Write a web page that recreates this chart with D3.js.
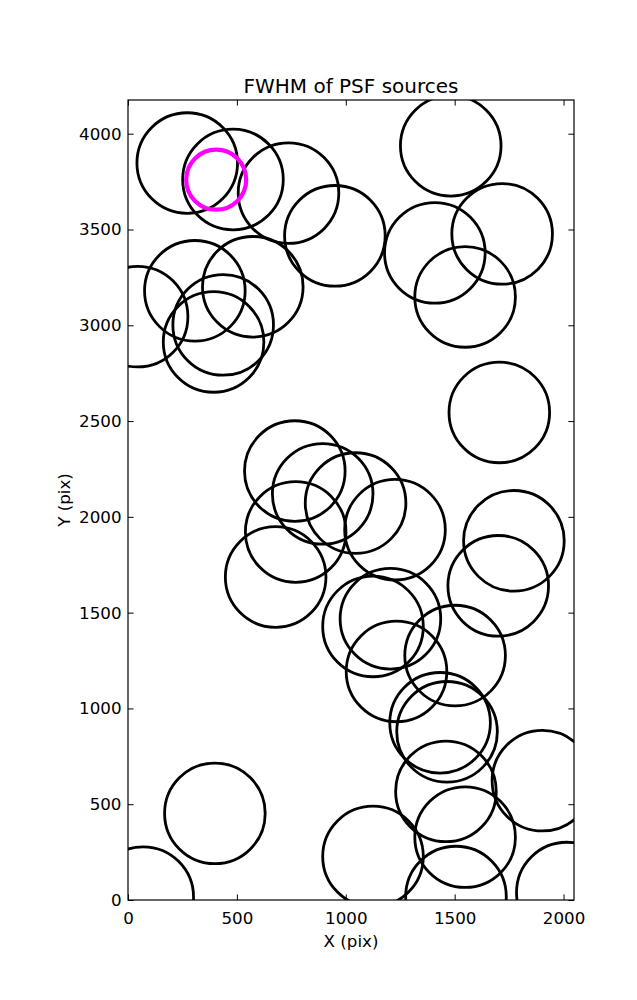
<!DOCTYPE html>
<html><head><meta charset="utf-8">
<script src="https://cdn.jsdelivr.net/npm/d3@7"></script>
<style>body{margin:0;background:#fff}</style>
</head><body>
<script>
// Source positions (data units, pix)
const srcX = [272, 482, 737, 950, 1482, 1718, 1409, 1548, 44, 307, 573, 437, 393, 1705,
  766, 894, 1045, 1226, 770, 678, 1772, 1700, 1205, 1125, 1233, 1502,
  1433, 1465, 1460, 1903, 1548, 1125, 1506, 2015, 70, 399];
const srcY = [3847, 3761, 3690, 3467, 3937, 3477, 3378, 3148, 3045, 3180, 3201, 3002, 2913, 2545,
  2239, 2120, 2072, 1933, 1921, 1686, 1875, 1640, 1468, 1428, 1193, 1276,
  925, 878, 567, 623, 328, 227, 18, 39, 15, 452];
const highlightX = [405];
const highlightY = [3760];
const xTicks = [0, 500, 1000, 1500, 2000];
const yTicks = [0, 500, 1000, 1500, 2000, 2500, 3000, 3500, 4000];
const xDomain = [0, 2048];
const yDomain = [0, 4176];

const W = 637, H = 1000;
const L = 128, R = 574, T = 100, B = 900;
const svg = d3.select("body").append("svg").attr("width", W).attr("height", H)
  .style("font-family", "DejaVu Sans");
const x = d3.scaleLinear().domain(xDomain).range([L, R]);
const y = d3.scaleLinear().domain(yDomain).range([B, T]);

svg.append("defs").append("clipPath").attr("id", "clip")
  .append("rect").attr("x", L).attr("y", T).attr("width", R - L).attr("height", B - T);

const g = svg.append("g").attr("clip-path", "url(#clip)");
g.selectAll("circle.src").data(srcX.map((d, i) => [d, srcY[i]])).enter()
  .append("circle").attr("class", "src")
  .attr("cx", d => x(d[0])).attr("cy", d => y(d[1])).attr("r", 50.3)
  .attr("fill", "none").attr("stroke", "#000").attr("stroke-width", 2.8);
g.selectAll("circle.hl").data(highlightX.map((d, i) => [d, highlightY[i]])).enter()
  .append("circle").attr("class", "hl")
  .attr("cx", d => x(d[0])).attr("cy", d => y(d[1])).attr("r", 30)
  .attr("fill", "none").attr("stroke", "#ff00ff").attr("stroke-width", 4.2);

const tl = 5.6, fs = 16.7;
function styleAxis(sel) {
  sel.select(".domain").remove();
  sel.selectAll(".tick line").attr("stroke", "#000").attr("stroke-width", 1);
  sel.selectAll(".tick text").attr("fill", "#000").style("font-size", fs + "px").style("font-family", "DejaVu Sans");
}
svg.append("g").attr("transform", `translate(0,${B})`)
  .call(d3.axisBottom(x).tickValues(xTicks).tickSize(-tl).tickPadding(12.6).tickFormat(d3.format("d")))
  .call(styleAxis);
svg.append("g").attr("transform", `translate(0,${T})`)
  .call(d3.axisTop(x).tickValues(xTicks).tickSize(-tl).tickFormat(""))
  .call(styleAxis);
svg.append("g").attr("transform", `translate(${L},0)`)
  .call(d3.axisLeft(y).tickValues(yTicks).tickSize(-tl).tickPadding(6.5).tickFormat(d3.format("d")))
  .call(styleAxis);
svg.append("g").attr("transform", `translate(${R},0)`)
  .call(d3.axisRight(y).tickValues(yTicks).tickSize(-tl).tickFormat(""))
  .call(styleAxis);

svg.append("rect").attr("x", L).attr("y", T).attr("width", R - L).attr("height", B - T)
  .attr("fill", "none").attr("stroke", "#000").attr("stroke-width", 1.2);

svg.append("text").attr("x", (L + R) / 2).attr("y", 93).attr("text-anchor", "middle")
  .style("font-size", "20px").text("FWHM of PSF sources");
svg.append("text").attr("x", (L + R) / 2).attr("y", 947).attr("text-anchor", "middle")
  .style("font-size", fs + "px").text("X (pix)");
svg.append("text").attr("transform", `translate(70,${(T + B) / 2}) rotate(-90)`).attr("text-anchor", "middle")
  .style("font-size", fs + "px").text("Y (pix)");
</script>
</body></html>
